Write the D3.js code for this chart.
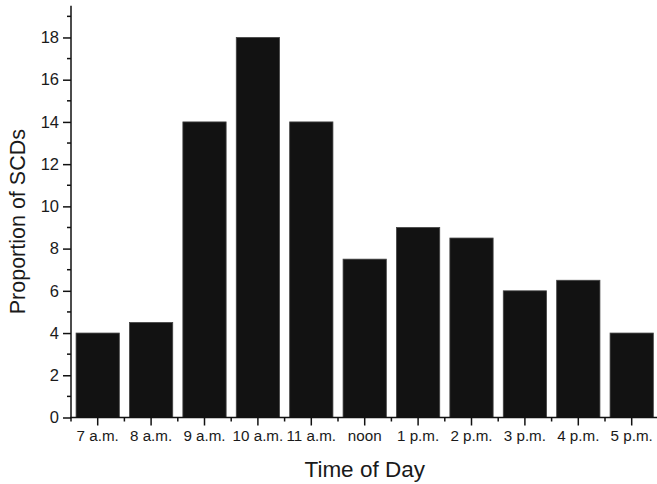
<!DOCTYPE html>
<html>
<head>
<meta charset="utf-8">
<script src="https://cdn.jsdelivr.net/npm/d3@7"></script>
<style>
  html, body { margin: 0; padding: 0; background: #fff; }
  svg { display: block; }
  text { font-family: "Liberation Sans", Arial, sans-serif; fill: #1a1a1a; }
</style>
</head>
<body>
<div id="chart"></div>
<script>
const categories = ["7 a.m.", "8 a.m.", "9 a.m.", "10 a.m.", "11 a.m.", "noon", "1 p.m.", "2 p.m.", "3 p.m.", "4 p.m.", "5 p.m."];
const values = [4, 4.5, 14, 18, 14, 7.5, 9, 8.5, 6, 6.5, 4];
const yTicks = [0, 2, 4, 6, 8, 10, 12, 14, 16, 18];
const yMinorTicks = [1, 3, 5, 7, 9, 11, 13, 15, 17, 19];
const xTitle = "Time of Day";
const yTitle = "Proportion of SCDs";

(function () {
const W = 657, H = 484;
const mLeft = 71, mRight = 658.4, mTop = 5.8, mBottom = 417.5;

const svg = d3.select("#chart").append("svg")
  .attr("width", W).attr("height", H);

const pad = 0.19;
const x = d3.scaleBand().domain(categories).range([mLeft, mRight])
  .paddingInner(pad).paddingOuter(pad / 2);
const y = d3.scaleLinear().domain([0, 19.5]).range([mBottom, mTop]);

// bars
svg.append("g").selectAll("rect").data(values).join("rect")
  .attr("x", (d, i) => x(categories[i]))
  .attr("y", d => y(d))
  .attr("width", x.bandwidth())
  .attr("height", d => y(0) - y(d))
  .attr("fill", "#121212")
  .attr("stroke", "#444")
  .attr("stroke-width", 0.8);

// y axis
const yAxis = svg.append("g").attr("transform", `translate(${mLeft},0)`)
  .call(d3.axisLeft(y).tickValues(yTicks).tickSize(8).tickPadding(4).tickFormat(d3.format("d")));
yAxis.select(".domain").remove();
yAxis.selectAll("line").attr("stroke", "#111").attr("stroke-width", 1.5);
yAxis.selectAll("text").style("font-size", "16.5px").attr("fill", "#1a1a1a");
svg.append("g").attr("transform", `translate(${mLeft},0)`)
  .selectAll("line").data(yMinorTicks).join("line")
  .attr("x1", -4).attr("x2", 0)
  .attr("y1", d => y(d)).attr("y2", d => y(d))
  .attr("stroke", "#111").attr("stroke-width", 1.5);
svg.append("line")
  .attr("x1", mLeft).attr("x2", mLeft)
  .attr("y1", y(19.5)).attr("y2", mBottom + 0.75)
  .attr("stroke", "#111").attr("stroke-width", 1.5);

// x axis
const xAxis = svg.append("g").attr("transform", `translate(0,${mBottom})`)
  .call(d3.axisBottom(x).tickSize(8).tickPadding(5));
xAxis.select(".domain").remove();
xAxis.selectAll("line").attr("stroke", "#111").attr("stroke-width", 1.5);
xAxis.selectAll("text").style("font-size", "15.2px").attr("fill", "#1a1a1a");
const bounds = d3.range(categories.length + 1).map(i => x(categories[0]) - x.step() * pad / 2 + i * x.step());
svg.append("g").attr("transform", `translate(0,${mBottom})`)
  .selectAll("line").data(bounds).join("line")
  .attr("x1", d => d).attr("x2", d => d)
  .attr("y1", 0).attr("y2", 4)
  .attr("stroke", "#111").attr("stroke-width", 1.5);
svg.append("line")
  .attr("x1", mLeft - 0.75).attr("x2", mRight)
  .attr("y1", mBottom).attr("y2", mBottom)
  .attr("stroke", "#111").attr("stroke-width", 1.5);

// titles
svg.append("text")
  .attr("x", (mLeft + mRight) / 2).attr("y", 476.5)
  .attr("text-anchor", "middle")
  .style("font-size", "22.5px")
  .text(xTitle);
svg.append("text")
  .attr("transform", `translate(25,${(y(0) + y(19.5)) / 2 + 10}) rotate(-90)`)
  .attr("text-anchor", "middle")
  .style("font-size", "21.5px")
  .text(yTitle);
})();
</script>
</body>
</html>
